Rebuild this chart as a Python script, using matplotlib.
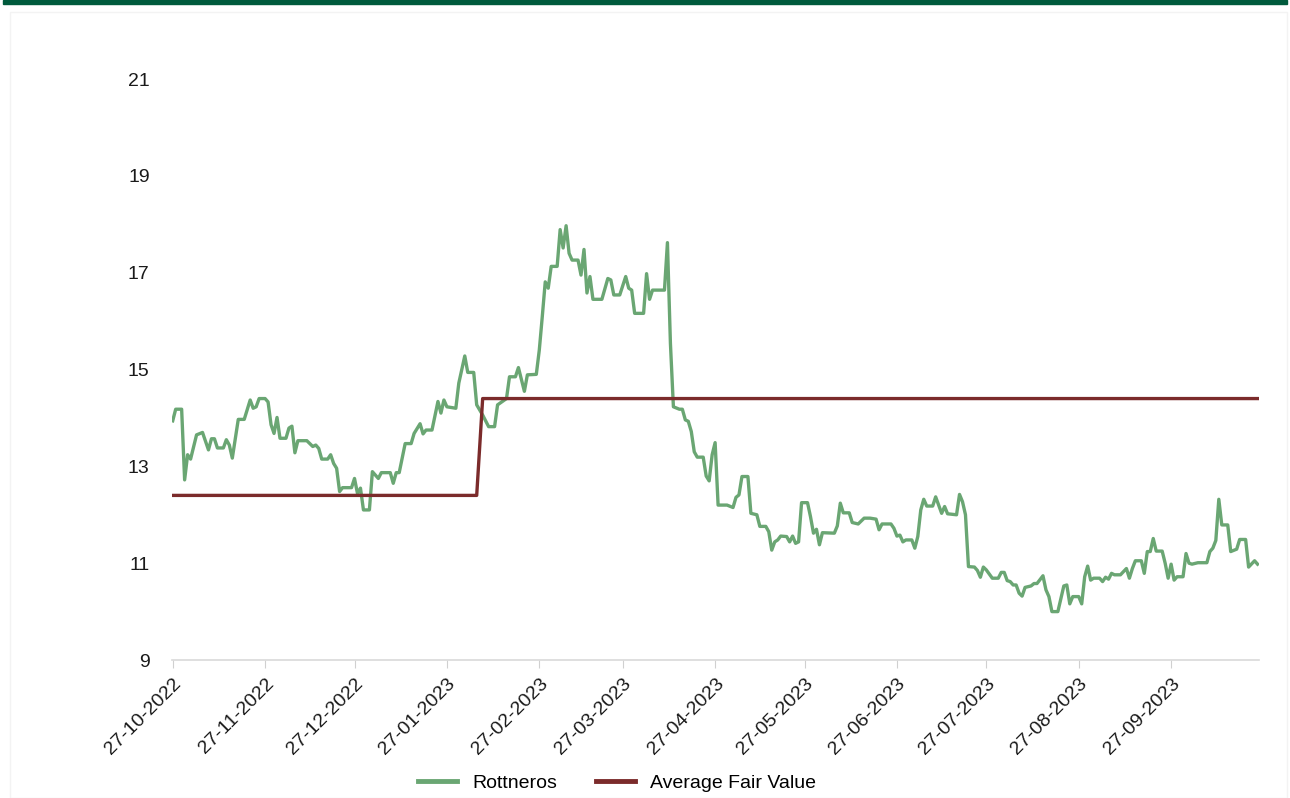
import pandas as pd
import numpy as np
import matplotlib
matplotlib.use("Agg")
import matplotlib.pyplot as plt
from matplotlib.patches import Rectangle

plt.rcParams['font.family'] = ['Liberation Sans', 'DejaVu Sans']

start = pd.Timestamp("2022-10-27")

# Rottneros share price, days counted from 27-10-2022
price_days = [
    0, 1, 3, 4, 5, 6, 8, 10, 12, 13, 14, 15, 17, 18, 19, 20, 22, 24, 26, 27,
    28, 29, 31, 32, 33, 34, 35, 36, 38, 39, 40, 41, 42, 45, 47, 48, 49, 50, 52, 53,
    54, 55, 56, 57, 60, 61, 62, 63, 64, 66, 67, 69, 70, 73, 74, 75, 76, 78, 80, 81,
    83, 84, 85, 87, 89, 90, 91, 92, 95, 96, 98, 99, 101, 102, 104, 106, 108, 109, 112, 113,
    115, 116, 118, 119, 122, 123, 124, 125, 126, 127, 129, 130, 131, 132, 133, 134, 136, 137, 138, 139,
    140, 141, 144, 146, 147, 148, 150, 152, 153, 154, 155, 158, 159, 160, 161, 165, 166, 167, 168, 170,
    171, 172, 173, 174, 175, 176, 178, 179, 180, 181, 182, 183, 186, 188, 189, 190, 191, 193, 194, 196,
    197, 199, 200, 201, 202, 203, 204, 206, 207, 208, 209, 210, 211, 213, 214, 215, 216, 217, 218, 222,
    223, 224, 225, 227, 228, 230, 232, 234, 236, 237, 238, 241, 242, 243, 244, 245, 246, 248, 249, 250,
    251, 252, 253, 255, 256, 257, 258, 259, 260, 263, 264, 265, 266, 267, 269, 270, 271, 272, 273, 275,
    277, 278, 279, 280, 281, 282, 283, 284, 285, 286, 288, 289, 290, 292, 293, 294, 295, 297, 298, 299,
    300, 301, 302, 304, 305, 306, 307, 308, 309, 311, 312, 313, 314, 315, 316, 318, 320, 321, 322, 323,
    325, 326, 327, 328, 329, 330, 332, 333, 334, 335, 336, 337, 339, 340, 341, 342, 344, 347, 348, 349,
    350, 351, 352, 354, 355, 357, 358, 360, 361, 363, 364,
]
price = [
    13.94, 14.18, 14.18, 12.72, 13.24, 13.15, 13.65, 13.70, 13.34, 13.57, 13.57, 13.38, 13.38, 13.55, 13.44, 13.17, 13.97, 13.97, 14.37, 14.20,
    14.23, 14.40, 14.40, 14.33, 13.86, 13.68, 14.01, 13.58, 13.58, 13.79, 13.83, 13.28, 13.53, 13.53, 13.41, 13.44, 13.37, 13.15, 13.15, 13.24,
    13.06, 12.96, 12.48, 12.56, 12.56, 12.75, 12.44, 12.55, 12.10, 12.10, 12.89, 12.75, 12.87, 12.87, 12.65, 12.87, 12.87, 13.47, 13.47, 13.68,
    13.88, 13.67, 13.75, 13.75, 14.34, 14.10, 14.37, 14.23, 14.20, 14.72, 15.28, 14.94, 14.94, 14.27, 14.06, 13.82, 13.82, 14.27, 14.40, 14.85,
    14.85, 15.04, 14.55, 14.89, 14.90, 15.40, 16.09, 16.81, 16.68, 17.13, 17.13, 17.89, 17.51, 17.97, 17.40, 17.26, 17.26, 16.95, 17.48, 16.58,
    16.92, 16.45, 16.45, 16.88, 16.85, 16.54, 16.54, 16.92, 16.68, 16.64, 16.16, 16.16, 16.98, 16.45, 16.64, 16.64, 17.62, 15.54, 14.23, 14.18,
    14.18, 13.96, 13.93, 13.72, 13.30, 13.19, 13.19, 12.80, 12.70, 13.24, 13.49, 12.20, 12.20, 12.15, 12.36, 12.41, 12.79, 12.79, 12.03, 12.00,
    11.76, 11.76, 11.65, 11.27, 11.44, 11.48, 11.56, 11.55, 11.44, 11.56, 11.41, 11.44, 12.25, 12.25, 11.96, 11.62, 11.70, 11.38, 11.63, 11.62,
    11.77, 12.24, 12.04, 12.04, 11.84, 11.81, 11.93, 11.93, 11.91, 11.69, 11.81, 11.81, 11.72, 11.56, 11.58, 11.44, 11.48, 11.48, 11.31, 11.55,
    12.10, 12.32, 12.18, 12.18, 12.37, 12.20, 12.03, 12.17, 12.02, 12.00, 12.42, 12.27, 12.00, 10.93, 10.92, 10.85, 10.71, 10.92, 10.86, 10.69,
    10.69, 10.81, 10.81, 10.64, 10.62, 10.55, 10.55, 10.38, 10.32, 10.50, 10.53, 10.58, 10.58, 10.74, 10.45, 10.31, 10.00, 10.00, 10.27, 10.53,
    10.55, 10.16, 10.31, 10.31, 10.16, 10.72, 10.94, 10.65, 10.69, 10.69, 10.62, 10.71, 10.67, 10.79, 10.76, 10.76, 10.89, 10.69, 10.89, 11.05,
    11.05, 10.79, 11.24, 11.24, 11.51, 11.25, 11.25, 11.00, 10.69, 10.98, 10.65, 10.72, 10.72, 11.20, 11.00, 10.98, 11.01, 11.01, 11.24, 11.31,
    11.47, 12.32, 11.79, 11.79, 11.24, 11.29, 11.49, 11.49, 10.92, 11.05, 10.98,
]

# Average fair value (step)
fair_days = [0, 102, 104, 364]
fair_value = [12.4, 12.4, 14.4, 14.4]

tick_dates = ["27-10-2022", "27-11-2022", "27-12-2022", "27-01-2023", "27-02-2023", "27-03-2023",
              "27-04-2023", "27-05-2023", "27-06-2023", "27-07-2023", "27-08-2023", "27-09-2023"]
y_ticks = [9, 11, 13, 15, 17, 19, 21]

green = "#6aa673"
maroon = "#7b2b2b"

price_dates = start + pd.to_timedelta(price_days, unit="D")
fair_dates = start + pd.to_timedelta(fair_days, unit="D")

fig = plt.figure(figsize=(12.9, 7.98), dpi=100)
ax = fig.add_axes([0.1333, 0.1729, 0.8427, 0.7281])

ax.plot(price_dates, price, color=green, lw=2.4, label="Rottneros", solid_joinstyle="round")
ax.plot(fair_dates, fair_value, color=maroon, lw=2.4, label="Average Fair Value")

ax.set_ylim(9, 21)
ax.set_yticks(y_ticks)
ax.set_xlim(start - pd.Timedelta(hours=6), start + pd.Timedelta(days=364.5))
ticks = pd.to_datetime(tick_dates, format="%d-%m-%Y")
ax.set_xticks(ticks)
ax.set_xticklabels(tick_dates, rotation=45, ha="right", rotation_mode="anchor", fontsize=14, color="#1a1a1a")
ax.tick_params(axis="x", length=6, color="#d0d0d0", pad=5)
ax.tick_params(axis="y", length=0, pad=16, labelsize=14, labelcolor="#1a1a1a")

for s in ["top", "right", "left"]:
    ax.spines[s].set_visible(False)
ax.spines["bottom"].set_color("#d9d9d9")
ax.spines["bottom"].set_linewidth(1.2)

leg = fig.legend(loc="center", bbox_to_anchor=(617 / 1290, 1 - 783 / 798), ncol=2, frameon=False,
                 fontsize=14, handlelength=2.0, handletextpad=0.8, columnspacing=2.0)
for h in leg.get_lines():
    h.set_linewidth(3.5)

# dark green band on top and faint frame
fig.patches.append(Rectangle((0.002, 0.995), 0.996, 0.005, transform=fig.transFigure,
                             color="#005a3c", zorder=5))
fig.patches.append(Rectangle((0.008, 0.0), 0.99, 0.985, transform=fig.transFigure,
                             fill=False, edgecolor="#f3f3f3", lw=1.0))

fig.savefig("out.png", dpi=100)
